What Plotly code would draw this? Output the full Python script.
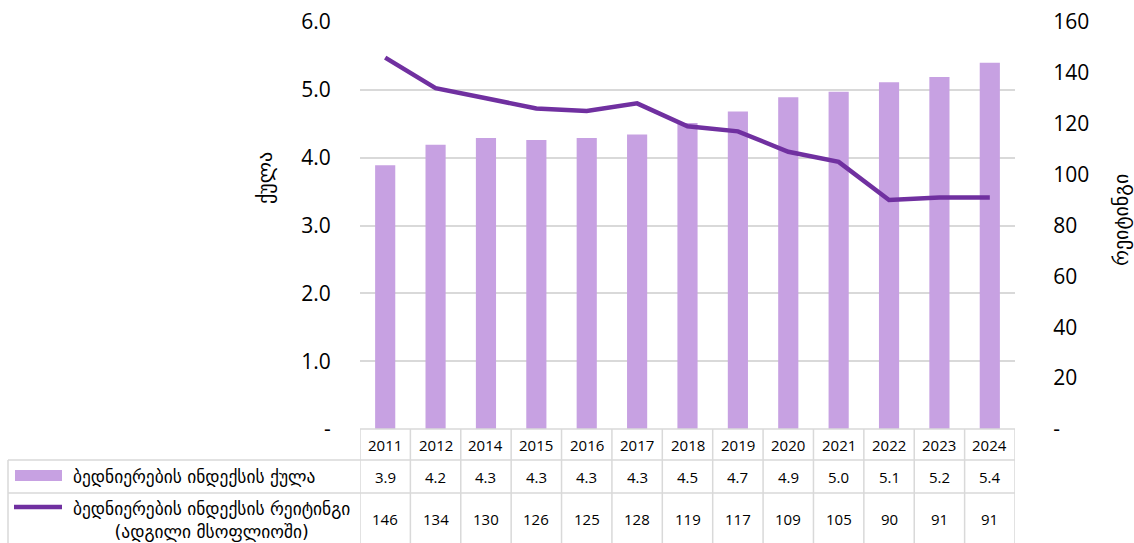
import plotly.graph_objects as go

years = ["2011", "2012", "2014", "2015", "2016", "2017", "2018", "2019", "2020", "2021", "2022", "2023", "2024"]
score = [3.89, 4.19, 4.29, 4.26, 4.29, 4.34, 4.51, 4.68, 4.89, 4.97, 5.11, 5.19, 5.40]
rank = [146, 134, 130, 126, 125, 128, 119, 117, 109, 105, 90, 91, 91]

score_name = "ბედნიერების ინდექსის ქულა"
rank_name_1 = "ბედნიერების ინდექსის რეიტინგი"
rank_name_2 = "(ადგილი მსოფლიოში)"
left_title = "ქულა"
right_title = "რეიტინგი"

left_ticks = [0, 1, 2, 3, 4, 5, 6]
left_text = ["-", "1.0", "2.0", "3.0", "4.0", "5.0", "6.0"]
right_ticks = [0, 20, 40, 60, 80, 100, 120, 140, 160]
right_text = ["-", "20", "40", "60", "80", "100", "120", "140", "160"]

BAR = "#c7a1e2"
LINE = "#7030a0"
GRID = "#d9d9d9"
NUMFONT = "Open Sans, DejaVu Sans, sans-serif"
GEOFONT = "DejaVu Sans, Noto Sans, sans-serif"

W, H = 1134, 543
PL, PR, PT, PB = 360, 1015, 22, 429
L, R, T, B = PL, W - PR, PT, H - PB
pw, ph = W - L - R, H - T - B

def px(x):
    return (x - PL) / pw

def py(y):
    return (PB - y) / ph

fig = go.Figure()
fig.add_trace(go.Bar(x=years, y=score, marker_color=BAR, marker_line_width=0, name=score_name))
fig.add_trace(go.Scatter(x=years, y=rank, yaxis="y2", mode="lines",
                         line=dict(color=LINE, width=4.5), name=rank_name_1))

shapes = []
annotations = []
n = len(years)
y_row1, y_row2, y_bot = py(460), py(493), py(560)
for i in range(n + 1):
    shapes.append(dict(type="line", xref="x", yref="paper", x0=i - 0.5, x1=i - 0.5,
                       y0=0, y1=y_bot, line=dict(color=GRID, width=1.5)))
shapes.append(dict(type="line", xref="paper", yref="paper", x0=0, x1=1, y0=0, y1=0,
                   line=dict(color=GRID, width=1.5)))
for yy in (y_row1, y_row2):
    shapes.append(dict(type="line", xref="paper", yref="paper", x0=px(8), x1=1, y0=yy, y1=yy,
                       line=dict(color=GRID, width=1.5)))
shapes.append(dict(type="line", xref="paper", yref="paper", x0=px(8), x1=px(8), y0=y_row1, y1=y_bot,
                   line=dict(color=GRID, width=1.5)))
shapes.append(dict(type="rect", xref="paper", yref="paper", x0=px(15), x1=px(62), y0=py(470), y1=py(481),
                   fillcolor=BAR, line=dict(width=0)))
shapes.append(dict(type="line", xref="paper", yref="paper", x0=px(14), x1=px(62), y0=py(507), y1=py(507),
                   line=dict(color=LINE, width=4.5)))

cell_font = dict(family=NUMFONT, size=15, color="#000")
for i, yr in enumerate(years):
    annotations.append(dict(x=i, xref="x", y=py(445), yref="paper", text=yr, showarrow=False,
                            xanchor="center", yanchor="middle", font=cell_font))
    annotations.append(dict(x=i, xref="x", y=py(477), yref="paper", text=f"{score[i]:.1f}", showarrow=False,
                            xanchor="center", yanchor="middle", font=cell_font))
    annotations.append(dict(x=i, xref="x", y=py(519), yref="paper", text=str(rank[i]), showarrow=False,
                            xanchor="center", yanchor="middle", font=cell_font))

geo_font = dict(family=GEOFONT, size=17.4, color="#000")
annotations.append(dict(x=px(71), xref="paper", y=py(477), yref="paper", text=score_name, showarrow=False,
                        xanchor="left", yanchor="middle", font=geo_font))
annotations.append(dict(x=px(71), xref="paper", y=py(520), yref="paper",
                        text=rank_name_1 + "<br>" + rank_name_2, showarrow=False,
                        xanchor="left", yanchor="middle", align="center", font=geo_font))
annotations.append(dict(x=px(265), xref="paper", y=py(178), yref="paper", text=left_title, showarrow=False,
                        xanchor="center", yanchor="middle", textangle=-90,
                        font=dict(family=GEOFONT, size=20, color="#000")))
annotations.append(dict(x=px(1121), xref="paper", y=py(220), yref="paper", text=right_title, showarrow=False,
                        xanchor="center", yanchor="middle", textangle=-90,
                        font=dict(family=GEOFONT, size=20, color="#000")))

fig.update_layout(
    width=W, height=H,
    margin=dict(l=L, r=R, t=T, b=B, autoexpand=False),
    paper_bgcolor="white", plot_bgcolor="white",
    showlegend=False,
    bargap=0.6,
    xaxis=dict(type="category", showticklabels=False, showgrid=False, zeroline=False,
               showline=False, ticks="", range=[-0.5, n - 0.5]),
    yaxis=dict(range=[0, 6], tickvals=left_ticks, ticktext=left_text, showgrid=True,
               gridcolor=GRID, gridwidth=1.5, zeroline=False, showline=False,
               ticks="outside", ticklen=24, tickcolor="rgba(0,0,0,0)", ticklabeloverflow="allow",
               tickfont=dict(family=NUMFONT, size=21, color="#000")),
    yaxis2=dict(range=[0, 160], tickvals=right_ticks, ticktext=right_text, overlaying="y",
                side="right", showgrid=False, zeroline=False, showline=False,
                ticks="outside", ticklen=33, tickcolor="rgba(0,0,0,0)", ticklabeloverflow="allow",
                tickfont=dict(family=NUMFONT, size=21, color="#000")),
    shapes=shapes,
    annotations=annotations,
)

fig.write_html("out.html", config={"displayModeBar": False},
               post_script="document.body.style.margin='0';document.body.style.overflow='hidden';")
